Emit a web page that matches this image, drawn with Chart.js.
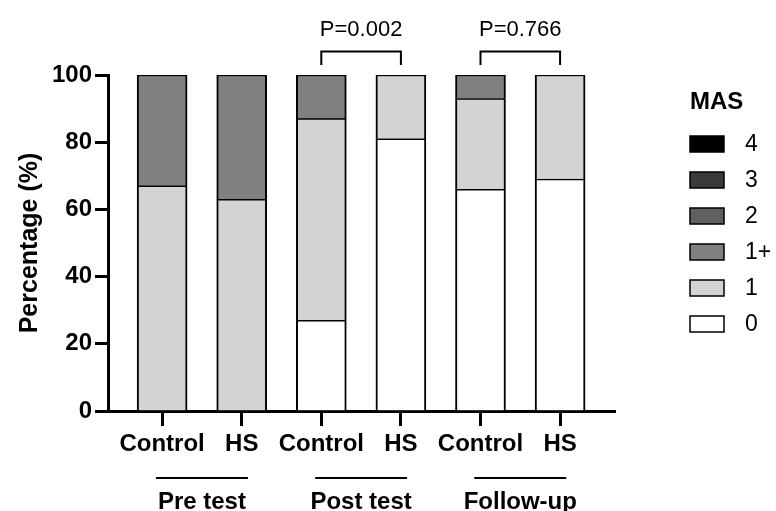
<!DOCTYPE html>
<html>
<head>
<meta charset="utf-8">
<script src="https://cdn.jsdelivr.net/npm/chart.js@4/dist/chart.umd.min.js"></script>
<style>
  html, body { margin: 0; padding: 0; background: #fff; }
  canvas { display: block; }
</style>
</head>
<body>
<canvas id="chart" width="776" height="511"></canvas>
<script>
// data
const categories = ["Control", "HS", "Control", "HS", "Control", "HS"];
const groups = ["Pre test", "Post test", "Follow-up"];
const masLabels = ["0", "1", "1+", "2", "3", "4"];
const mas0 = [0, 0, 27, 81, 66, 69];
const mas1 = [67, 63, 60, 19, 27, 31];
const mas1p = [33, 37, 13, 0, 7, 0];
const mas2 = [0, 0, 0, 0, 0, 0];
const mas3 = [0, 0, 0, 0, 0, 0];
const mas4 = [0, 0, 0, 0, 0, 0];
const pTexts = ["P=0.002", "P=0.766"];
const pPairs = [[2, 3], [4, 5]];

const masColors = ["#ffffff", "#d3d3d3", "#808080", "#606060", "#3a3a3a", "#000000"];
const masSeries = [mas0, mas1, mas1p, mas2, mas3, mas4];

const FONT = "'Liberation Sans', Arial, sans-serif";
Chart.defaults.font.family = FONT;
Chart.defaults.color = "#000";

function toPoints(arr) {
    return arr.map(function (v, i) { return { x: i, y: v }; });
}

const datasets = masSeries.map(function (arr, i) {
    return {
        label: masLabels[i],
        data: toPoints(arr),
        backgroundColor: masColors[i],
        borderColor: "#000",
        borderWidth: { top: 1.5, bottom: 0.5, left: 2, right: 2 },
        borderSkipped: false,
        barThickness: 50
    };
});

// extra drawing: group lines/labels, p-value brackets, legend
const extras = {
    id: "extras",
    afterDraw(chart) {
        const ctx = chart.ctx;
        const x = chart.scales.x;
        const y = chart.scales.y;
        ctx.save();
        ctx.strokeStyle = "#000";
        ctx.fillStyle = "#000";

        // group underlines and names
        ctx.lineWidth = 2;
        ctx.textAlign = "center";
        ctx.textBaseline = "alphabetic";
        ctx.font = "bold 24px " + FONT;
        groups.forEach(function (g, i) {
            const cx = (x.getPixelForValue(i * 2) + x.getPixelForValue(i * 2 + 1)) / 2;
            ctx.beginPath();
            ctx.moveTo(cx - 46, 478);
            ctx.lineTo(cx + 46, 478);
            ctx.stroke();
            ctx.fillText(g, cx, 509);
        });

        // brackets
        ctx.lineWidth = 2;
        ctx.font = "22px " + FONT;
        ctx.textBaseline = "middle";
        pPairs.forEach(function (p, i) {
            const x1 = x.getPixelForValue(p[0]);
            const x2 = x.getPixelForValue(p[1]);
            const top = y.getPixelForValue(107);
            const bot = y.getPixelForValue(103);
            ctx.beginPath();
            ctx.moveTo(x1, bot);
            ctx.lineTo(x1, top);
            ctx.lineTo(x2, top);
            ctx.lineTo(x2, bot);
            ctx.stroke();
            ctx.fillText(pTexts[i], (x1 + x2) / 2, top - 22);
        });

        // legend
        ctx.textAlign = "left";
        ctx.font = "bold 24px " + FONT;
        ctx.fillText("MAS", 690, 102);
        ctx.font = "23px " + FONT;
        const ds = chart.data.datasets;
        for (let k = 0; k < ds.length; k++) {
            const d = ds[ds.length - 1 - k];
            const cy = 144 + k * 36;
            ctx.fillStyle = d.backgroundColor;
            ctx.fillRect(690, cy - 8, 34, 16);
            ctx.lineWidth = 1.5;
            ctx.strokeRect(690, cy - 8, 34, 16);
            ctx.fillStyle = "#000";
            ctx.fillText(d.label, 745, cy + 1);
        }
        ctx.restore();
    }
};

new Chart(document.getElementById("chart"), {
    type: "bar",
    data: { datasets: datasets },
    options: {
        responsive: false,
        animation: false,
        devicePixelRatio: 1,
        layout: { padding: { left: 0, top: 75, right: 161, bottom: 0 } },
        plugins: {
            legend: { display: false },
            tooltip: { enabled: false }
        },
        scales: {
            x: {
                type: "linear",
                stacked: true,
                offset: false,
                min: -0.68,
                max: 5.69,
                afterBuildTicks: function (scale) {
                    scale.ticks = categories.map(function (c, i) { return { value: i }; });
                },
                afterFit: function (scale) { scale.height = 100; },
                border: { display: true, color: "#000", width: 3 },
                grid: { display: true, drawOnChartArea: false, offset: false, tickLength: 15, tickWidth: 3, tickColor: "#000" },
                ticks: {
                    autoSkip: false,
                    maxRotation: 0,
                    padding: 4,
                    font: { size: 24, weight: "bold" },
                    callback: function (v) { return categories[v]; }
                }
            },
            y: {
                stacked: true,
                min: 0,
                max: 100,
                afterFit: function (scale) { scale.width = 108; },
                border: { display: true, color: "#000", width: 3 },
                grid: { display: true, drawOnChartArea: false, tickLength: 13, tickWidth: 3, tickColor: "#000" },
                ticks: {
                    stepSize: 20,
                    padding: 3,
                    font: { size: 24, weight: "bold" }
                },
                title: {
                    display: true,
                    text: "Percentage (%)",
                    font: { size: 25, weight: "bold" },
                    padding: { top: 15, bottom: 0 }
                }
            }
        }
    },
    plugins: [extras]
});
</script>
</body>
</html>
